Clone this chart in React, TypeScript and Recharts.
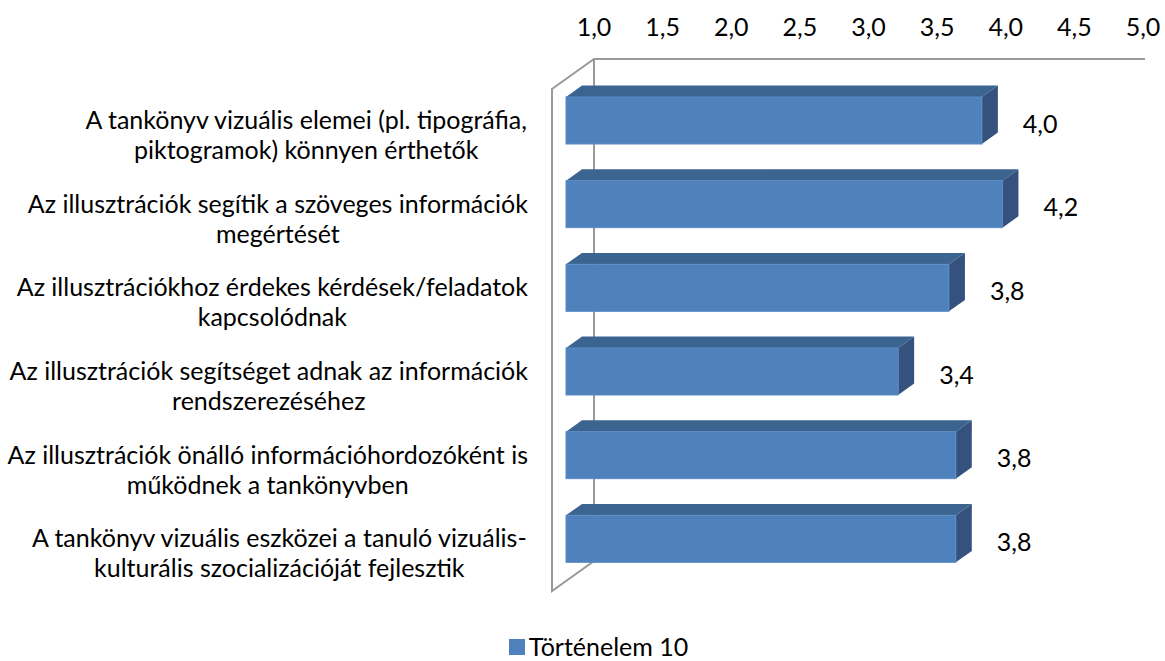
import { BarChart, Bar, XAxis, YAxis, LabelList, Legend, ReferenceArea } from 'recharts';

const categories = [
  'A tankönyv vizuális elemei (pl. tipográfia,\npiktogramok) könnyen érthetők',
  'Az illusztrációk segítik a szöveges információk\nmegértését',
  'Az illusztrációkhoz érdekes kérdések/feladatok\nkapcsolódnak',
  'Az illusztrációk segítséget adnak az információk\nrendszerezéséhez',
  'Az illusztrációk önálló információhordozóként is\nműködnek a tankönyvben',
  'A tankönyv vizuális eszközei a tanuló vizuális-\nkulturális szocializációját fejlesztik',
];
const seriesName = 'Történelem 10';
const values = [4.03, 4.18, 3.79, 3.42, 3.84, 3.84];
const xTicks = [1, 1.5, 2, 2.5, 3, 3.5, 4, 4.5, 5];

const data = categories.map((name, i) => ({ name, value: values[i] }));

const FONT = 'Lato';
const FS = 25;
const WALL = '#9a9a9a';
// oblique depth of the 3D box
const DEPTH_X = 42;
const DEPTH_Y = 30;
const BAR_FRONT_X = 28;
const BAR_FRONT_Y = 20;
const BAR_BACK_X = 12;
const BAR_BACK_Y = 8.6;

const fmt = (v: number) => v.toFixed(1).replace('.', ',');

let ctx: CanvasRenderingContext2D | null = null;
function textWidth(t: string) {
  if (!ctx) ctx = document.createElement('canvas').getContext('2d');
  if (!ctx) return t.length * FS * 0.5;
  ctx.font = `${FS}px ${FONT}`;
  return ctx.measureText(t).width;
}

function CategoryTick(props: any) {
  const { x, y, payload } = props;
  const lines: string[] = String(payload.value).split('\n');
  const maxW = Math.max(...lines.map(textWidth));
  const right = x - 66;
  const cx = right - maxW / 2;
  const cy = y + 33;
  const lh = 30;
  const start = cy - ((lines.length - 1) * lh) / 2;
  return (
    <g>
      {lines.map((l, i) => (
        <text
          key={i}
          x={cx}
          y={start + i * lh}
          textAnchor="middle"
          dominantBaseline="central"
          fontFamily={FONT}
          fontSize={FS}
          fill="#000"
        >
          {l}
        </text>
      ))}
    </g>
  );
}

function Bar3D(props: any) {
  const { x, y, width, height } = props;
  const fx = x - BAR_FRONT_X;
  const fy = y + BAR_FRONT_Y;
  const bx = x - BAR_BACK_X;
  const by = y + BAR_BACK_Y;
  return (
    <g>
      <polygon
        points={`${fx},${fy} ${fx + width},${fy} ${bx + width},${by} ${bx},${by}`}
        fill="#3C6491"
      />
      <polygon
        points={`${fx + width},${fy} ${bx + width},${by} ${bx + width},${by + height} ${fx + width},${fy + height}`}
        fill="#34527D"
      />
      <rect x={fx} y={fy} width={width} height={height} fill="#4F81BD" stroke="#5B8BC5" strokeWidth={1} />
    </g>
  );
}

function Walls(props: any) {
  const { x, y, width, height } = props;
  return (
    <g fill="none" stroke={WALL} strokeWidth={2}>
      <polyline
        points={`${x + width + 2},${y} ${x},${y} ${x - DEPTH_X},${y + DEPTH_Y} ${x - DEPTH_X},${y + height + DEPTH_Y} ${x},${y + height} ${x},${y}`}
      />
    </g>
  );
}

function ValueLabel(props: any) {
  const { x, y, width, height, value } = props;
  return (
    <text
      x={x + width + 13}
      y={y + height / 2 + 22}
      dominantBaseline="central"
      fontFamily={FONT}
      fontSize={FS}
      fill="#000"
    >
      {fmt(value)}
    </text>
  );
}

function LegendContent(props: any) {
  const item = props.payload?.[0];
  if (!item) return null;
  return (
    <div
      style={{
        display: 'flex',
        justifyContent: 'center',
        alignItems: 'center',
        fontFamily: FONT,
        fontSize: FS,
        lineHeight: 1,
        color: '#000',
      }}
    >
      <span style={{ width: 16, height: 16, background: item.color, marginRight: 4 }} />
      <span>{item.value}</span>
    </div>
  );
}

export default function App() {
  return (
    <div style={{ position: 'absolute', left: 0, top: 0, background: '#fff' }}>
      <BarChart
        width={1165}
        height={661}
        data={data}
        layout="vertical"
        margin={{ top: 19, right: 22, bottom: 100, left: 0 }}
      >
        <XAxis
          type="number"
          orientation="top"
          domain={[1, 5]}
          ticks={xTicks}
          tickFormatter={fmt}
          axisLine={false}
          tickLine={false}
          tickSize={0}
          tickMargin={23}
          height={40}
          tick={{ fill: '#000', fontSize: FS, fontFamily: FONT }}
        />
        <YAxis
          type="category"
          dataKey="name"
          width={594}
          axisLine={false}
          tickLine={false}
          tickSize={0}
          tickMargin={0}
          tick={<CategoryTick />}
          interval={0}
        />
        <ReferenceArea x1={1} x2={5} shape={<Walls />} fill="none" />
        <Legend
          verticalAlign="middle"
          align="center"
          content={<LegendContent />}
          wrapperStyle={{ top: 634, left: 16, width: 1165, height: 26 }}
        />
        <Bar
          dataKey="value"
          name={seriesName}
          fill="#4F81BD"
          barSize={47}
          shape={<Bar3D />}
          isAnimationActive={false}
        >
          <LabelList dataKey="value" content={<ValueLabel />} />
        </Bar>
      </BarChart>
    </div>
  );
}
